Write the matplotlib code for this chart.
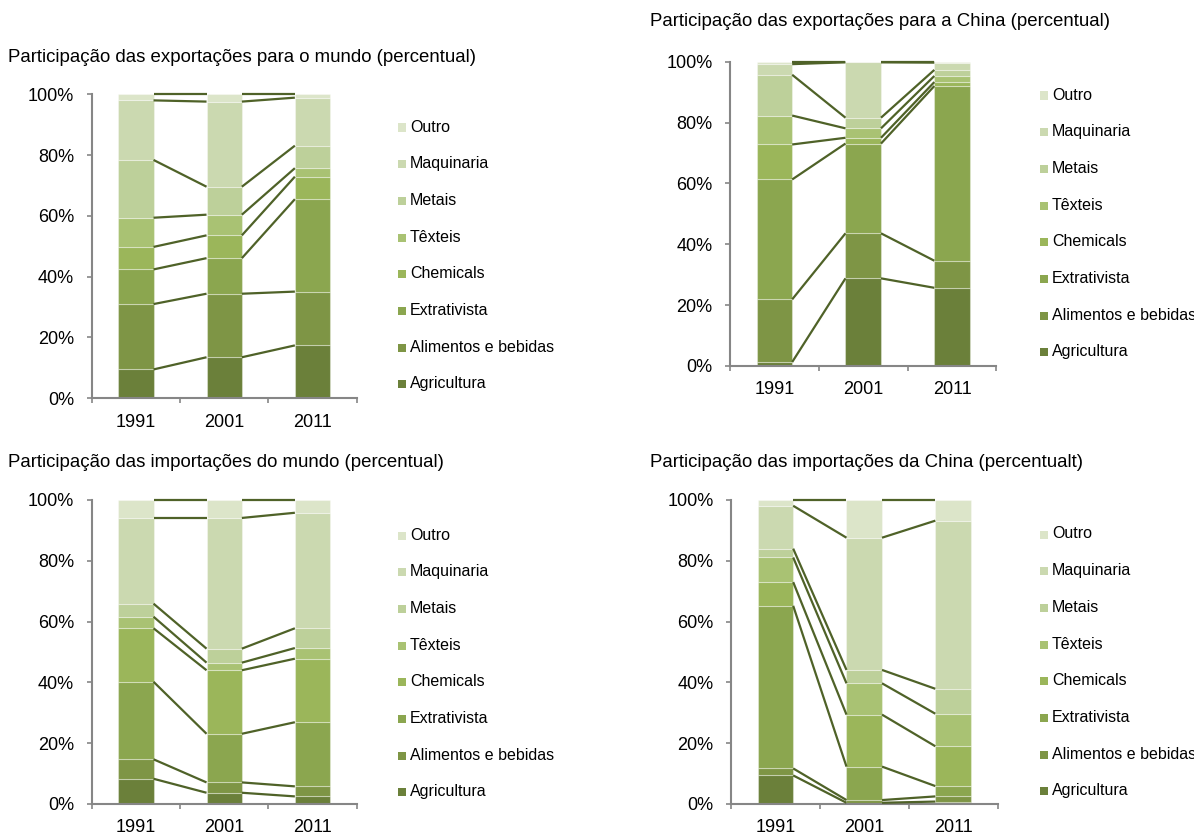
import matplotlib
matplotlib.use("Agg")
import matplotlib.pyplot as plt
from matplotlib.patches import Rectangle
import numpy as np

plt.rcParams['font.family'] = ['Liberation Sans', 'DejaVu Sans']

years = ['1991', '2001', '2011']
sectors = ['Agricultura', 'Alimentos e bebidas', 'Extrativista', 'Chemicals',
           'Têxteis', 'Metais', 'Maquinaria', 'Outro']

# shares (%) by sector (rows, bottom to top) and year (columns)
exp_mundo = [
    [9.5, 13.5, 17.4],
    [21.5, 20.9, 17.7],
    [11.4, 11.7, 30.4],
    [7.4, 7.5, 7.4],
    [9.6, 6.8, 2.8],
    [19.0, 9.2, 7.4],
    [19.6, 28.0, 15.8],
    [2.0, 2.4, 1.1],
]
exp_china = [
    [1.3, 28.8, 25.7],
    [20.6, 14.8, 8.9],
    [39.4, 29.5, 57.4],
    [11.5, 1.9, 1.3],
    [9.5, 3.1, 2.0],
    [13.4, 3.5, 2.0],
    [3.5, 18.2, 2.4],
    [0.8, 0.2, 0.3],
]
imp_mundo = [
    [8.3, 3.7, 2.5],
    [6.4, 3.4, 3.3],
    [25.5, 16.0, 21.1],
    [17.6, 20.9, 20.9],
    [3.8, 2.5, 3.5],
    [4.3, 4.6, 6.5],
    [28.2, 43.0, 38.0],
    [5.9, 5.9, 4.2],
]
imp_china = [
    [9.4, 0.4, 0.8],
    [2.3, 0.9, 1.7],
    [53.5, 11.0, 3.4],
    [7.8, 17.1, 13.1],
    [8.1, 10.3, 10.7],
    [2.9, 4.4, 8.2],
    [14.1, 43.5, 55.3],
    [1.9, 12.4, 6.8],
]

titles = [
    'Participação das exportações para o mundo (percentual)',
    'Participação das exportações para a China (percentual)',
    'Participação das importações do mundo (percentual)',
    'Participação das importações da China (percentualt)',
]

colors = ['#6b803a', '#7e9545', '#8ba64f', '#9bb65a', '#a9c273',
          '#bdd09a', '#cbd9b0', '#dce5c9']
line_color = '#4f6228'
spine_color = '#868686'

W, H = 1194, 836
fig = plt.figure(figsize=(W / 100, H / 100), dpi=100)

# axes boxes in pixels: left, bottom(0%), right, top(100%)
boxes = [
    (91.7, 398.3, 356.7, 94.3),
    (730.0, 366.0, 996.5, 61.7),
    (91.7, 804.0, 356.7, 500.0),
    (731.0, 804.0, 997.5, 500.0),
]
title_pos = [(8, 57), (650, 22), (8, 462), (650, 462)]
legend_pos = [(398, 127), (1040, 95), (398, 535), (1040, 534)]
legend_step = 36.7

panels = [exp_mundo, exp_china, imp_mundo, imp_china]
bar_w = 0.4

for data, box, ttl, tpos, lpos in zip(panels, boxes, titles, title_pos, legend_pos):
    l, b, r, t = box
    ax = fig.add_axes([l / W, 1 - b / H, (r - l) / W, (b - t) / H])
    vals = np.array(data, dtype=float)
    x = np.arange(len(years))
    bottoms = np.zeros(len(years))
    for i, row in enumerate(vals):
        ax.bar(x, row, width=bar_w, bottom=bottoms, color=colors[i],
               edgecolor=(1, 1, 1, 0.35), linewidth=0.8, zorder=2)
        tops = bottoms + row
        # series lines joining the top of each segment between bars
        for j in range(len(years) - 1):
            ax.plot([x[j] + bar_w / 2, x[j + 1] - bar_w / 2],
                    [tops[j], tops[j + 1]], color=line_color, lw=1.6,
                    solid_capstyle='butt', zorder=3, clip_on=False)
        bottoms = tops

    ax.set_xlim(-0.5, len(years) - 0.5)
    ax.set_ylim(0, 100)
    ax.set_yticks(np.arange(0, 101, 20))
    ax.set_yticklabels([f'{v}%' for v in range(0, 101, 20)])
    ax.set_xticks(x)
    ax.set_xticklabels(years)
    ax.set_xticks(np.arange(-0.5, len(years)), minor=True)
    ax.tick_params(axis='x', which='major', length=0, pad=11, labelsize=13)
    ax.tick_params(axis='x', which='minor', length=3.6, width=1.2,
                   color=spine_color, direction='out')
    ax.tick_params(axis='y', length=3.6, width=1.2, color=spine_color,
                   direction='out', pad=9, labelsize=13)
    for s in ['top', 'right']:
        ax.spines[s].set_visible(False)
    for s in ['left', 'bottom']:
        ax.spines[s].set_color(spine_color)
        ax.spines[s].set_linewidth(1.5)
    ax.set_facecolor('none')

    fig.text(tpos[0] / W, 1 - tpos[1] / H, ttl, fontsize=13.4,
             ha='left', va='center')

    # legend, top entry first
    lx, ly = lpos
    for k, name in enumerate(reversed(sectors)):
        yy = ly + k * legend_step
        ci = len(sectors) - 1 - k
        fig.add_artist(Rectangle((lx / W, 1 - (yy + 4.5) / H), 8 / W, 8 / H,
                                 transform=fig.transFigure,
                                 facecolor=colors[ci], edgecolor='none'))
        fig.text((lx + 12) / W, 1 - yy / H, name, fontsize=11.5,
                 ha='left', va='center')

fig.savefig('out.png', dpi=100)
